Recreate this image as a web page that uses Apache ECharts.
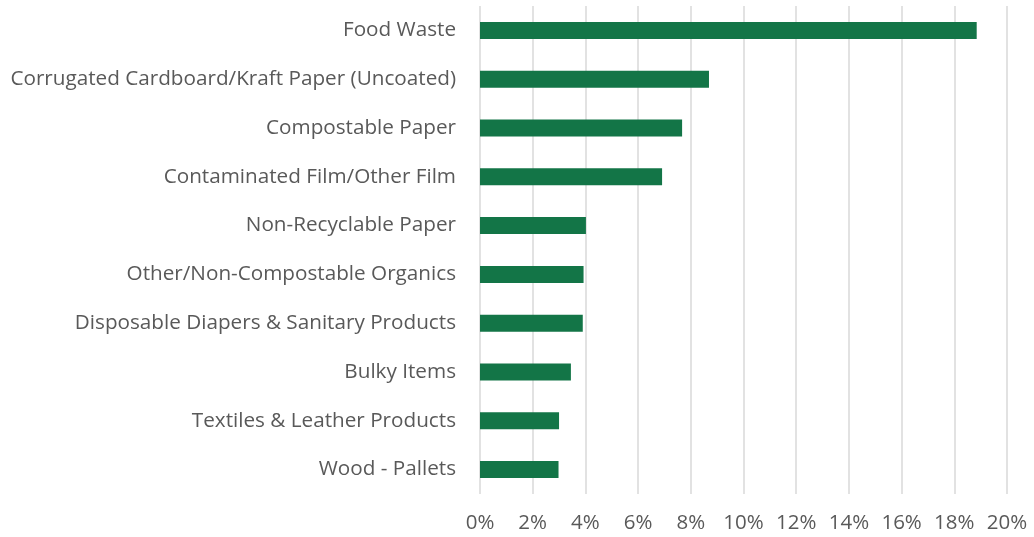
<!DOCTYPE html>
<html>
<head>
<meta charset="utf-8">
<script src="https://cdn.jsdelivr.net/npm/echarts@6/dist/echarts.min.js"></script>
<style>
  html, body { margin: 0; padding: 0; background: #fff; }
  #chart { width: 1034px; height: 537px; }
</style>
</head>
<body>
<div id="chart"></div>
<script>
// categories, top to bottom as shown
const categories = [
  'Food Waste',
  'Corrugated Cardboard/Kraft Paper (Uncoated)',
  'Compostable Paper',
  'Contaminated Film/Other Film',
  'Non-Recyclable Paper',
  'Other/Non-Compostable Organics',
  'Disposable Diapers & Sanitary Products',
  'Bulky Items',
  'Textiles & Leather Products',
  'Wood - Pallets'
]
// share of total, percent
const shares = [18.85, 8.69, 7.67, 6.91, 4.02, 3.93, 3.9, 3.45, 3.0, 2.98]
const tickMin = 0
const tickMax = 20
const tickStep = 2

const chart = echarts.init(document.getElementById('chart'))
const labelFont = '"Open Sans", sans-serif'

chart.setOption({
  animation: false,
  grid: { left: 480, right: 27, top: 6, bottom: 43 },
  xAxis: {
    type: 'value',
    min: tickMin,
    max: tickMax,
    interval: tickStep,
    axisLine: { show: false },
    axisTick: { show: false },
    splitLine: { lineStyle: { color: '#d9d9d9', width: 1.5 } },
    axisLabel: {
      formatter: '{value}%',
      color: '#595959',
      fontSize: 20.5,
      fontFamily: labelFont,
      margin: 19
    }
  },
  yAxis: {
    type: 'category',
    inverse: true,
    data: categories,
    axisLine: { show: false },
    axisTick: { show: false },
    axisLabel: {
      color: '#595959',
      fontSize: 20.7,
      fontFamily: labelFont,
      margin: 24
    }
  },
  series: [{
    type: 'bar',
    data: shares,
    barWidth: 17,
    itemStyle: { color: '#137547' }
  }]
})
</script>
</body>
</html>
